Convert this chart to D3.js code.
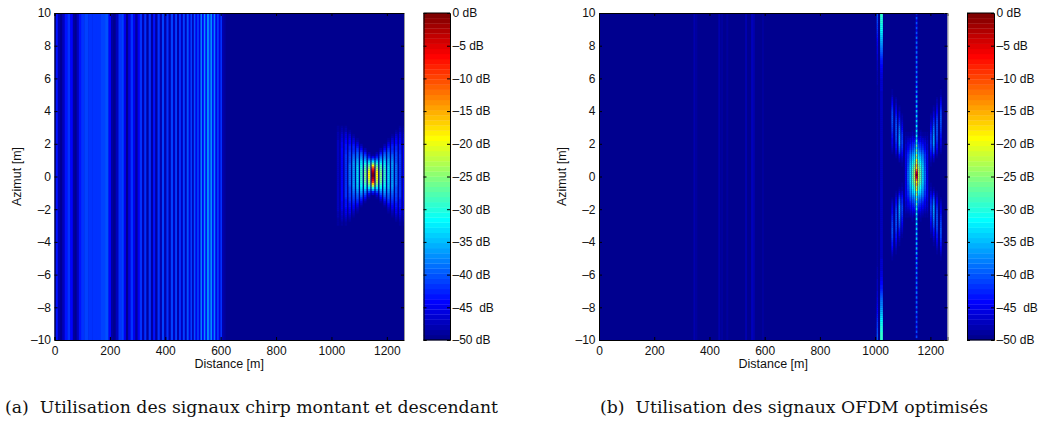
<!DOCTYPE html>
<html><head><meta charset="utf-8">
<script src="https://cdnjs.cloudflare.com/ajax/libs/d3/7.8.5/d3.min.js"></script>
<style>
html,body{margin:0;padding:0;background:#fff}
svg{display:block}
text{font-family:"Liberation Sans",sans-serif;fill:#111;white-space:pre}
.cap{font-family:"DejaVu Serif",serif;font-size:16px}
</style></head><body><svg id="c" width="1044" height="425"></svg>
<script>
// ---------- data ----------
const xTicks=[0,200,400,600,800,1000,1200];
const yTicks=[-10,-8,-6,-4,-2,0,2,4,6,8,10];
const cbTicks=[0,-5,-10,-15,-20,-25,-30,-35,-40,-45,-50];
const cbLabels=["0 dB","–5 dB","–10 dB","–15 dB","–20 dB","–25 dB","–30 dB","–35 dB","–40 dB","–45  dB","–50 dB"];
const jetStops=["#00008f","#0000ff","#00ffff","#ffff00","#ff0000","#800000"];
const jetPos=[0,0.11,0.365,0.62,0.875,1];
// range sidelobe stripes of panel (a): distance [m], level [dB]
const chirpDist=[0,8,16,24,32,42,52,62,70,76,84,92,100,115,130,145,160,175,190,200,208,216,226,236,246,254,262,270,280,288,296,304,312,320,328,336,344,352,360,368,376,384,392,400,408,416,424,432,439,446,453,460,467,474,481,488,494,500,506,512,518,524,530,536,542,548,554,560,566,572,578,584,590,596,602,608,614];
const chirpDb=[-44,-43,-48,-50,-47,-43,-41.5,-44,-49,-50,-47,-43,-41.5,-41,-42,-41.5,-42,-41,-40,-44,-49,-50,-47,-42,-41,-45,-50,-46,-42,-45,-49,-45,-42,-48,-42,-49,-42,-49,-43,-49,-42,-48,-41,-48,-42,-48,-41,-47,-41,-48,-42,-47,-41,-47,-40,-46,-41,-47,-40,-45,-41,-46,-38,-44,-37,-43,-36,-42,-37,-43,-38,-45,-41,-46,-42,-48,-49];
// faint stripes of panel (b)
const ofdmDist=[345,352,435,445,464,532,554,560,593];
const ofdmDb=[-48,-49,-48,-49,-48.5,-48,-47.5,-48,-48.5];
// target response of panel (a): offset from target [m], level at each |azimuth|
const targetAz=[0,0.2,0.4,0.6,0.8,1,1.25,1.5,1.75,2,2.25,2.5,2.75,3,3.25];
const chirpOffsets=[0,14,28,42,56,70,84,98,112,126];
const chirpTarget=[
[0,-3,-9,-20,-31,-41,-50,-50,-50,-50,-50,-50,-50,-50,-50],
[-19,-20,-23,-27,-33,-40,-47,-50,-50,-50,-50,-50,-50,-50,-50],
[-25,-26,-27,-29,-33,-37,-42,-47,-50,-50,-50,-50,-50,-50,-50],
[-29,-29,-30,-31,-33,-36,-39,-43,-47,-50,-50,-50,-50,-50,-50],
[-33,-33,-33,-34,-35,-37,-39,-41,-44,-47,-49,-50,-50,-50,-50],
[-36,-36,-36,-36,-37,-38,-40,-42,-43,-45,-47,-49,-50,-50,-50],
[-39,-39,-39,-39,-40,-40,-41,-42,-43,-44,-45,-47,-49,-50,-50],
[-42,-42,-42,-42,-42,-42,-42,-43,-43,-44,-45,-46,-48,-49,-50],
[-44,-44,-44,-44,-44,-44,-44,-44,-45,-45,-46,-47,-48,-49,-50],
[-47,-47,-47,-47,-47,-47,-47,-47,-47,-47,-48,-48,-49,-49,-50]];
// panel (b): response around the target, signed offset [m], level at each |azimuth|
const ofdmAz=[0,0.3,0.6,0.9,1.2,1.5,2,2.5,3,3.5,4,4.5,5,6,7,8,9,10];
const ofdmOffsets=[8,-8,15,-15,23,-23,31,-31,39,-39,52,-52,62,-62,74,-74,88,-88,-127,-142];
const ofdmTarget=[
[-22,-23,-26,-30,-34,-38,-43,-49,-50,-50,-50,-50,-50,-50,-50,-50,-50,-50],
[-22,-23,-26,-30,-34,-38,-43,-49,-50,-50,-50,-50,-50,-50,-50,-50,-50,-50],
[-28,-28,-30,-33,-36,-40,-44,-48,-50,-50,-50,-50,-50,-50,-50,-50,-50,-50],
[-28,-28,-30,-33,-36,-40,-44,-48,-50,-50,-50,-50,-50,-50,-50,-50,-50,-50],
[-33,-33,-34,-36,-38,-41,-45,-49,-50,-50,-50,-50,-50,-50,-50,-50,-50,-50],
[-33,-33,-34,-36,-38,-41,-45,-49,-50,-50,-50,-50,-50,-50,-50,-50,-50,-50],
[-39,-39,-40,-41,-42,-44,-46,-49,-50,-50,-50,-50,-50,-50,-50,-50,-50,-50],
[-39,-39,-40,-41,-42,-44,-46,-49,-50,-50,-50,-50,-50,-50,-50,-50,-50,-50],
[-45,-45,-45,-45,-45,-46,-47,-49,-50,-50,-50,-50,-50,-50,-50,-50,-50,-50],
[-45,-45,-45,-45,-45,-46,-47,-49,-50,-50,-50,-50,-50,-50,-50,-50,-50,-50],
[-50,-50,-49,-48,-45,-43,-41,-42,-45,-48,-50,-50,-50,-50,-50,-50,-50,-50],
[-50,-50,-49,-48,-45,-43,-41,-42,-45,-48,-50,-50,-50,-50,-50,-50,-50,-50],
[-50,-50,-50,-48,-44,-40,-36,-37,-40,-44,-48,-50,-50,-50,-50,-50,-50,-50],
[-50,-50,-50,-48,-44,-40,-36,-37,-40,-44,-48,-50,-50,-50,-50,-50,-50,-50],
[-50,-50,-50,-50,-48,-45,-42,-40,-40,-42,-45,-48,-50,-50,-50,-50,-50,-50],
[-50,-50,-50,-50,-48,-45,-42,-40,-40,-42,-45,-48,-50,-50,-50,-50,-50,-50],
[-50,-50,-50,-50,-50,-48,-45,-43,-41,-40,-42,-45,-49,-50,-50,-50,-50,-50],
[-50,-50,-50,-50,-50,-48,-45,-43,-41,-40,-42,-45,-49,-50,-50,-50,-50,-50],
[-47,-47,-47,-47,-47,-47,-47,-47,-47,-47,-47,-47,-47,-46,-43,-37,-31,-29],
[-49,-49,-49,-49,-49,-49,-49,-49,-49,-49,-49,-49,-49,-48,-47,-45,-42,-40]];
// panel (b): dashed line through the target, |azimuth| from 0 in steps of centerStep
const centerStep=0.15;
const centerDb=[-1,-5,-12,-18,-15,-22,-19,-27,-23,-30,-26,-33,-28,-35,-30,-38,-31,-39,-32,-40,-32,-41,-33,-42,-33,-42,-34,-43,-34,-43,-35,-43,-35,-44,-36,-44,-36,-44,-37,-45,-37,-45,-38,-45,-38,-45,-38,-45,-38,-46,-39,-46,-39,-46,-39,-46,-39,-46,-40,-46,-40,-46,-40,-46,-40,-47,-41];
const targetDist=1150;
const targetAzimuth=0.1;
const captions=["(a)  Utilisation des signaux chirp montant et descendant","(b)  Utilisation des signaux OFDM optimisés"];

// ---------- drawing ----------
const svg=d3.select("#c");
const blur=svg.append("defs").append("filter").attr("id","bl").attr("x",-0.02).attr("y",-0.02).attr("width",1.04).attr("height",1.04)
 .attr("color-interpolation-filters","sRGB");
blur.append("feGaussianBlur").attr("stdDeviation","0.4 0.4");
const jetC=d3.scaleLinear().domain(jetPos).range(jetStops).interpolate(d3.interpolateRgb);
const nLev=64;
const color=d3.scaleQuantize().domain([-50,0]).range(d3.range(nLev).map(i=>jetC(i/(nLev-1))));

const H=[13,340];
const panels=[
 {x0:54.5,x1:404,cb0:423.5,cb1:450,id:"a",capX:5,capW:493},
 {x0:599,x1:947.5,cb0:967,cb1:994,id:"b",capX:600,capW:388}];
const azCells=d3.range(-10,10,0.125);

panels.forEach((p,pi)=>{
 const x=d3.scaleLinear().domain([0,1262]).range([p.x0,p.x1]);
 const y=d3.scaleLinear().domain([-10,10]).range([H[1],H[0]]);
 svg.append("clipPath").attr("id","clip"+p.id).append("rect").attr("x",p.x0).attr("y",H[0]).attr("width",p.x1-p.x0).attr("height",H[1]-H[0]);
 const outer=svg.append("g").attr("clip-path",`url(#clip${p.id})`);
 const g=outer.append("g").attr("filter","url(#bl)");
 g.append("rect").attr("x",p.x0-20).attr("y",H[0]-20).attr("width",p.x1-p.x0+40).attr("height",H[1]-H[0]+40).attr("fill",color(-50));
 // full-height stripes
 const dist=pi?ofdmDist:chirpDist, db=pi?ofdmDb:chirpDb;
 const stripes=dist.map((d,i)=>{
   const a=i?(d+dist[i-1])/2:0;
   const b=i<dist.length-1?(d+dist[i+1])/2:d+3;
   return pi?{a:d-3,b:d+3,v:db[i]}:{a,b,v:db[i]};
 });
 g.selectAll("rect.s").data(stripes).join("rect").attr("class","s")
  .attr("x",d=>x(d.a)).attr("width",d=>x(d.b)-x(d.a)+0.3)
  .attr("y",H[0]-20).attr("height",H[1]-H[0]+40).attr("fill",d=>color(d.v));
 // target response, table rows sampled along azimuth
 const cells=[];
 const addColumn=(c0,c1,az,vals)=>{
   const f=d3.scaleLinear().domain(az).range(vals).clamp(true);
   azCells.forEach(a=>{
     const v=f(Math.abs(a+0.0625-targetAzimuth));
     if(v>-49.5) cells.push({a:c0,b:c1,z:a,v});
   });
 };
 if(pi===0){
   chirpOffsets.forEach((o,i)=>{
     const w=o===0?5:4.5;
     addColumn(targetDist+o-w,targetDist+o+w,targetAz,chirpTarget[i]);
     if(o) addColumn(targetDist-o-w,targetDist-o+w,targetAz,chirpTarget[i]);
   });
 } else {
   ofdmOffsets.forEach((o,i)=>{
     const ab=Math.abs(o);
     const w=ab>130?2.5:(ab>100?5:3.2);
     addColumn(targetDist+o-w,targetDist+o+w,ofdmAz,ofdmTarget[i]);
   });
   centerDb.forEach((v,i)=>{
     [1,-1].forEach(s=>{
       const z=targetAzimuth+s*i*centerStep;
       cells.push({a:targetDist-3,b:targetDist+3,z:z-centerStep/2,v,h:centerStep});
     });
   });
 }
 g.selectAll("rect.t").data(cells).join("rect").attr("class","t")
  .attr("x",d=>x(d.a)).attr("width",d=>x(d.b)-x(d.a))
  .attr("y",d=>y(d.z+(d.h||0.125))).attr("height",d=>y(d.z)-y(d.z+(d.h||0.125))+0.2)
  .attr("fill",d=>color(d.v));
 // axes
 const bottom=d3.axisBottom(x).tickValues(xTicks).tickSize(-3).tickPadding(6).tickFormat(d=>d);
 const left=d3.axisLeft(y).tickValues(yTicks).tickSize(-3).tickPadding(3.5).tickFormat(d=>(d<0?"–"+(-d):d));
 const top=d3.axisTop(x).tickValues(xTicks).tickSize(-3).tickFormat("");
 const right=d3.axisRight(y).tickValues(yTicks).tickSize(-3).tickFormat("");
 const style=(s)=>{s.selectAll("text").style("font-size","12px").attr("fill","#111");s.selectAll("line").attr("stroke","#000");s.select(".domain").attr("stroke","#000");};
 svg.append("g").attr("transform",`translate(0,${H[1]})`).call(bottom).call(style).selectAll("text").attr("dy","0.71em");
 svg.append("g").attr("transform",`translate(${p.x0},0)`).call(left).call(style);
 svg.append("g").attr("transform",`translate(0,${H[0]})`).call(top).call(style);
 svg.append("g").attr("transform",`translate(${p.x1},0)`).call(right).call(style).select(".domain").attr("stroke","#999");
 svg.append("text").attr("x",(p.x0+p.x1)/2).attr("y",368).attr("text-anchor","middle").style("font-size","12.5px").text("Distance [m]");
 svg.append("text").attr("transform",`translate(${p.x0-33.5},176.5) rotate(-90)`).attr("text-anchor","middle").style("font-size","12.5px").text("Azimut [m]");
 // colour bar
 const cy=d3.scaleLinear().domain([-50,0]).range([H[1],H[0]]);
 const levels=d3.range(nLev);
 const band=(H[1]-H[0])/nLev;
 svg.append("g").selectAll("rect").data(levels).join("rect")
  .attr("x",p.cb0).attr("width",p.cb1-p.cb0)
  .attr("y",i=>cy(-50+(i+1)*50/nLev)).attr("height",band+0.3)
  .attr("fill",i=>color(-50+(i+0.5)*50/nLev));
 const cbR=d3.axisRight(cy).tickValues(cbTicks).tickSize(-3).tickPadding(2.5).tickFormat((d,i)=>cbLabels[i]);
 const cbL=d3.axisLeft(cy).tickValues(cbTicks).tickSize(-3).tickFormat("");
 svg.append("g").attr("transform",`translate(${p.cb1},0)`).call(cbR).call(style);
 svg.append("g").attr("transform",`translate(${p.cb0},0)`).call(cbL).call(style);
 svg.append("line").attr("x1",p.cb0).attr("x2",p.cb1).attr("y1",H[0]).attr("y2",H[0]).attr("stroke","#000");
 svg.append("line").attr("x1",p.cb0).attr("x2",p.cb1).attr("y1",H[1]).attr("y2",H[1]).attr("stroke","#000");
 // caption
 svg.append("text").attr("class","cap").attr("x",p.capX).attr("y",413).attr("textLength",p.capW).attr("lengthAdjust","spacingAndGlyphs").text(captions[pi]);
});
</script></body></html>
